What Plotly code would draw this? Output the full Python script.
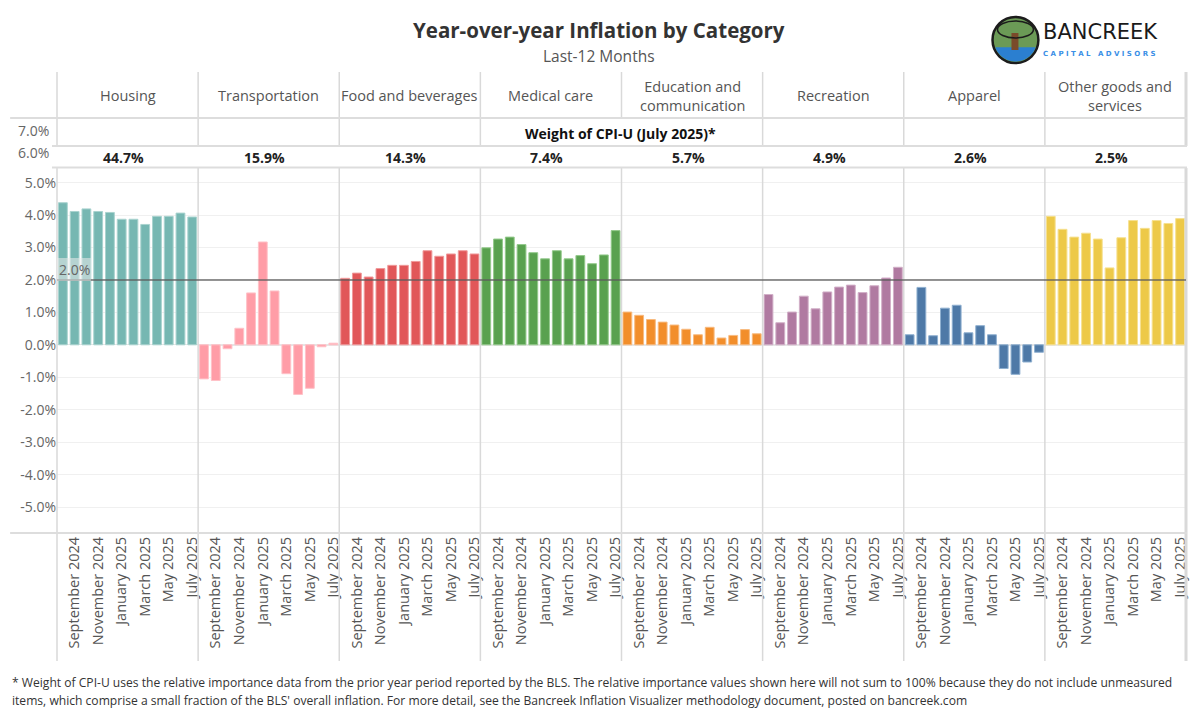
import numpy as np
import plotly.graph_objects as go
from plotly.subplots import make_subplots

months = ["August 2024", "September 2024", "October 2024", "November 2024", "December 2024",
          "January 2025", "February 2025", "March 2025", "April 2025", "May 2025",
          "June 2025", "July 2025"]
tick_months = months[1::2]

categories = ["Housing", "Transportation", "Food and beverages", "Medical care",
              "Education and<br>communication", "Recreation", "Apparel",
              "Other goods and<br>services"]
weights = ["44.7%", "15.9%", "14.3%", "7.4%", "5.7%", "4.9%", "2.6%", "2.5%"]

housing = [4.38, 4.11, 4.19, 4.11, 4.08, 3.87, 3.87, 3.71, 3.96, 3.96, 4.06, 3.94]
transportation = [-1.05, -1.10, -0.12, 0.51, 1.60, 3.17, 1.66, -0.89, -1.53, -1.34, -0.06, 0.05]
food = [2.05, 2.21, 2.09, 2.35, 2.45, 2.45, 2.57, 2.90, 2.73, 2.80, 2.90, 2.80]
medical = [2.99, 3.26, 3.32, 3.09, 2.84, 2.65, 2.90, 2.65, 2.75, 2.50, 2.77, 3.52]
education = [1.01, 0.91, 0.78, 0.70, 0.61, 0.48, 0.31, 0.54, 0.21, 0.29, 0.47, 0.34]
recreation = [1.55, 0.68, 1.01, 1.50, 1.11, 1.63, 1.78, 1.84, 1.61, 1.82, 2.06, 2.39]
apparel = [0.31, 1.77, 0.28, 1.13, 1.22, 0.37, 0.59, 0.31, -0.73, -0.91, -0.53, -0.23]
other = [3.96, 3.56, 3.32, 3.44, 3.26, 2.37, 3.30, 3.83, 3.59, 3.83, 3.74, 3.89]

series = [housing, transportation, food, medical, education, recreation, apparel, other]
colors = ["#76b7b2", "#ff9da7", "#e15759", "#59a14f", "#f28e2b", "#b07aa1", "#4e79a7", "#edc948"]
edge_colors = ["#a9d3cf", "#ffc2c8", "#f09a9b", "#93c98b", "#f8bb80", "#d2b0c8", "#8fb0d0", "#f6e08f"]

y_ticks = [5, 4, 3, 2, 1, 0, -1, -2, -3, -4, -5]
ref_value = 2.0

FONT = "Open Sans"
L, R, T, B = 57, 1189, 168, 533
W, H = R - L, B - T


def px(x):
    return (x - L) / W


def py(y):
    return (B - y) / H


fig = make_subplots(rows=1, cols=8, shared_yaxes=True, horizontal_spacing=0)

for i, vals in enumerate(series):
    fig.add_trace(
        go.Bar(x=months, y=vals, marker=dict(color=colors[i], line=dict(color=edge_colors[i], width=1)),
               showlegend=False, hoverinfo="x+y"),
        row=1, col=i + 1)
    fig.update_xaxes(row=1, col=i + 1, type="category", tickmode="array",
                     tickvals=tick_months, ticktext=tick_months, tickangle=-90,
                     tickfont=dict(family=FONT, size=14.5, color="#555"),
                     showgrid=False, showline=False, ticks="", range=[-0.5, 11.5])

fig.update_yaxes(range=[-5.8, 5.45], tickmode="array", tickvals=y_ticks,
                 ticktext=[f"{v:.1f}%" for v in y_ticks],
                 tickfont=dict(family=FONT, size=14, color="#666"),
                 showgrid=True, gridcolor="#f0f0f0", gridwidth=1,
                 zeroline=True, zerolinecolor="#e6e6e6", zerolinewidth=1,
                 showline=False, ticks="", row=1, col=1)
for c in range(2, 9):
    fig.update_yaxes(range=[-5.8, 5.45], showgrid=True, gridcolor="#f0f0f0", tickvals=y_ticks,
                     zeroline=True, zerolinecolor="#e6e6e6", showticklabels=False, row=1, col=c)

shapes = []
line_col = "#d9d9d9"
col_edges = [L + W * k / 8 for k in range(9)]
for k, xe in enumerate(col_edges):
    top_end = 118 if k == 4 else 146
    width = 3 if k == 8 else 1.5
    shapes.append(dict(type="line", xref="paper", yref="paper", x0=px(xe), x1=px(xe),
                       y0=py(72), y1=py(top_end), line=dict(color=line_col, width=width)))
    shapes.append(dict(type="line", xref="paper", yref="paper", x0=px(xe), x1=px(xe),
                       y0=py(168), y1=py(661), line=dict(color=line_col, width=width)))

for yy, x0 in [(118, 10), (146, 52), (167.5, 52), (533, 10)]:
    shapes.append(dict(type="line", xref="paper", yref="paper", x0=px(x0), x1=px(1190),
                       y0=py(yy), y1=py(yy), line=dict(color="#dddddd", width=2)))

# reference line
shapes.append(dict(type="line", xref="paper", yref="y", x0=0, x1=1, y0=ref_value, y1=ref_value,
                   line=dict(color="rgba(90,90,90,0.65)", width=2), layer="above"))
shapes.append(dict(type="rect", xref="paper", yref="paper", x0=0, x1=px(91),
                   y0=py(281), y1=py(258), fillcolor="rgba(235,235,235,0.55)", line=dict(width=0),
                   layer="above"))

# logo
cx, cy, r = 1018, 40, 23
shapes.append(dict(type="circle", xref="paper", yref="paper", x0=px(cx - r), x1=px(cx + r),
                   y0=py(cy + r), y1=py(cy - r), fillcolor="#6b9a56", line=dict(color="#1c1c1c", width=2.5)))
theta = np.linspace(np.deg2rad(20), np.deg2rad(160), 30)
pts = [(cx + (r - 1.5) * np.cos(t), cy + (r - 1.5) * np.sin(t)) for t in theta]
path = "M " + " L ".join(f"{px(a):.5f},{py(b):.5f}" for a, b in pts) + " Z"
shapes.append(dict(type="path", xref="paper", yref="paper", path=path, fillcolor="#2b7fd0",
                   line=dict(width=0)))
shapes.append(dict(type="rect", xref="paper", yref="paper", x0=px(1014), x1=px(1021),
                   y0=py(50), y1=py(33), fillcolor="#7a4a2a", line=dict(width=0)))
shapes.append(dict(type="circle", xref="paper", yref="paper", x0=px(1000), x1=px(1036),
                   y0=py(38), y1=py(21), fillcolor="rgba(0,0,0,0)", line=dict(color="#1c1c1c", width=1.5)))

annotations = []


def ann(text, x, y, size, color, xanchor="center", family=FONT):
    annotations.append(dict(text=text, x=px(x), y=py(y), xref="paper", yref="paper",
                            xanchor=xanchor, yanchor="middle", showarrow=False,
                            font=dict(family=family, size=size, color=color)))


ann("<b>Year-over-year Inflation by Category</b>", 600, 30, 20.5, "#333")
ann("Last-12 Months", 600, 56, 15.5, "#555")
for i, cat in enumerate(categories):
    xc = (col_edges[i] + col_edges[i + 1]) / 2
    ann(cat, xc, 96, 14.5, "#555")
    ann(f"<b>{weights[i]}</b>", xc - 4, 157, 14, "#222")
ann("<b>Weight of CPI-U (July 2025)*</b>", 622, 133, 14, "#111")
for lab, yy in [("7.0%", 130), ("6.0%", 152)]:
    ann(lab, 51, yy, 14, "#666", xanchor="right")
ann(f"{ref_value:.1f}%", 57, 269, 14, "#666", xanchor="left")
ann("BANCREEK", 1044, 32, 21, "#1a1a1a", xanchor="left", family="DejaVu Sans")
ann("<b>C A P I T A L   A D V I S O R S</b>", 1044, 54, 7, "#3a8fe6", xanchor="left", family="DejaVu Sans")

foot1 = ("* Weight of CPI-U uses the relative importance data from the prior year period reported by the BLS. "
         "The relative importance values shown here will not sum to 100% because they do not include unmeasured")
foot2 = ("items, which comprise a small fraction of the BLS' overall inflation. For more detail, see the Bancreek "
         "Inflation Visualizer methodology document, posted on bancreek.com")
ann(foot1, 10, 682, 12.1, "#333", xanchor="left")
ann(foot2, 10, 700, 12.1, "#333", xanchor="left")

fig.update_layout(width=1200, height=720, margin=dict(l=L, r=1200 - R, t=T, b=720 - B),
                  paper_bgcolor="white", plot_bgcolor="white", bargap=0.25,
                  shapes=shapes, annotations=annotations, font=dict(family=FONT))

fig.write_html("out.html", config={"displayModeBar": False},
               post_script="document.body.style.margin='0';document.body.style.overflow='hidden';")
